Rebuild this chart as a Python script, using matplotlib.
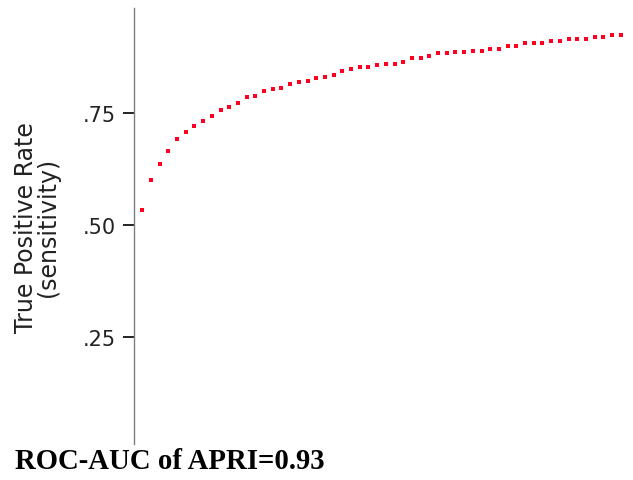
import numpy as np
import matplotlib
matplotlib.use("Agg")
import matplotlib.pyplot as plt

# === Data ===
# evenly spaced sample points along the false positive rate axis
fpr = np.arange(1, 57) / 100
tpr = [0.534, 0.601, 0.637, 0.666, 0.693, 0.708, 0.722, 0.733, 0.744, 0.757,
       0.764, 0.773, 0.786, 0.788, 0.800, 0.804, 0.806, 0.815, 0.820, 0.822,
       0.829, 0.831, 0.836, 0.844, 0.849, 0.853, 0.853, 0.858, 0.860, 0.860,
       0.864, 0.873, 0.873, 0.878, 0.885, 0.885, 0.887, 0.887, 0.889, 0.889,
       0.894, 0.894, 0.900, 0.900, 0.907, 0.907, 0.907, 0.911, 0.911, 0.916,
       0.916, 0.916, 0.920, 0.920, 0.925, 0.925]
ytick_vals = [0.25, 0.50, 0.75]
ytick_labels = [".25", ".50", ".75"]
auc_text = "ROC-AUC of APRI=0.93"

# === Figure ===
fig = plt.figure(figsize=(6.33, 4.81), dpi=100)
ax = fig.add_axes([133.5 / 633, 36 / 481, 1 - 133.5 / 633, 435.7 / 481])

ax.plot(fpr, tpr, linestyle="none", marker="s", markersize=2.4,
        markeredgewidth=0, color="#ff0022", clip_on=False)

ax.set_xlim(0, 499.5 / 870)
ax.set_ylim(0.012, 0.984)

# === Axis styling ===
for side in ["top", "right", "bottom"]:
    ax.spines[side].set_visible(False)
ax.spines["left"].set_color("#7f7f7f")
ax.spines["left"].set_linewidth(1.0)

ax.set_xticks([])
ax.set_yticks(ytick_vals)
ax.set_yticklabels(ytick_labels, fontsize=15, color="#222222")
ax.tick_params(axis="y", length=8, width=1.4, color="#222222", pad=5)

ax.set_ylabel("True Positive Rate\n(sensitivity)", fontsize=17,
              color="#222222", linespacing=0.92)
ax.yaxis.set_label_coords((60 - 133.5) / 499.5, 0.5)

fig.text(15 / 633, 1 - 469 / 481, auc_text, fontsize=20.7,
         family="Liberation Serif", fontweight="bold", color="black",
         ha="left", va="baseline")

fig.savefig("out.png", dpi=100)
